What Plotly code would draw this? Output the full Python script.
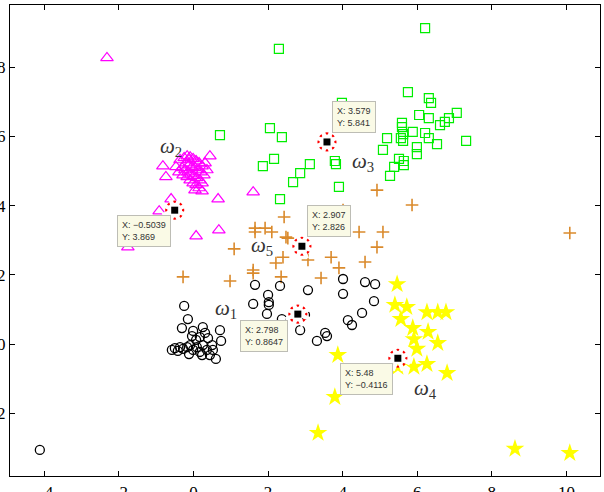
import plotly.graph_objects as go

# ---- data ----
w1_x = [-4.12, -0.25, -0.15, -0.31, -0.01, 0.25, 0.31, 0.71, 0.74, 0.60, -0.04, 0.07, 0.17, 0.39, 0.50,
        0.36, 0.17, -0.01, -0.17, -0.36, -0.50, -0.58, -0.42, -0.28, -0.09, 0.09, 0.25, 0.23, 0.44, 0.52, -0.12,
        1.65, 2.32, 2.00, 2.02, 2.02, 1.60, 1.97, 2.37, 3.07, 4.01, 4.60, 4.87, 4.01, 4.84, 4.52, 4.14, 4.25,
        3.53, 3.58, 3.31, 2.86, 2.99]
w1_y = [-3.06, 1.10, 0.72, 0.46, 0.38, 0.49, 0.32, 0.40, 0.09, -0.43, 0.23, 0.12, 0.20, 0.17, -0.03,
        -0.17, -0.23, -0.17, -0.09, -0.09, -0.12, -0.17, -0.20, -0.14, -0.03, -0.09, -0.03, -0.32, -0.32, -0.17, -0.29,
        1.71, 1.68, 1.42, 1.21, 1.13, 1.16, 0.87, 0.72, 1.56, 1.88, 1.79, 1.73, 1.45, 1.24, 0.90, 0.69, 0.55,
        0.32, 0.23, 0.09, 0.40, 0.84]

w2_x = [-2.32, -0.82, -0.74, -0.60, -0.92, 0.07, -1.76, 0.44, 0.23, 0.66, 1.60, 0.68,
        -0.36, -0.25, -0.17, -0.09, -0.01, 0.07, 0.15, 0.23, -0.20, -0.12, -0.04, 0.04, 0.12, 0.20, 0.28,
        -0.31, -0.23, -0.15, -0.07, 0.01, 0.09, 0.17, -0.28, -0.17, -0.09, -0.01, 0.07, 0.15, 0.23, 0.04,
        -0.39, -0.47, 0.31, 0.36, -0.12]
w2_y = [8.27, 5.14, 4.83, 4.19, 3.84, 3.12, 2.80, 5.43, 4.42, 4.19, 4.39, 3.29,
        5.32, 5.38, 5.43, 5.40, 5.35, 5.29, 5.23, 5.14, 5.23, 5.17, 5.12, 5.09, 5.03, 4.97, 4.88,
        5.09, 5.03, 4.97, 4.91, 4.86, 4.80, 4.74, 4.88, 4.83, 4.74, 4.65, 4.60, 4.51, 4.65, 4.45,
        4.97, 5.12, 5.23, 5.03, 5.32]

w3_x = [2.29, 3.98, 0.71, 2.05, 2.37, 2.16, 1.86, 3.12, 2.86, 2.67, 2.32, 3.79, 3.82, 3.90,
        5.19, 5.08, 5.38, 5.27, 6.21, 5.75, 6.31, 6.37, 6.05, 6.31, 7.06, 6.85, 6.74, 6.61,
        5.88, 6.21, 6.31, 6.53, 7.31, 5.99, 5.99, 5.59, 5.59, 5.62, 5.56, 5.62, 5.51, 5.64, 5.64]
w3_y = [8.53, 6.97, 6.04, 6.24, 5.98, 5.35, 5.14, 5.20, 4.94, 4.68, 4.19, 5.29, 5.20, 4.54,
        5.95, 5.61, 5.12, 4.86, 9.13, 7.28, 7.11, 6.97, 6.62, 6.53, 6.68, 6.53, 6.42, 6.33,
        6.13, 6.10, 5.95, 5.78, 5.87, 5.69, 5.49, 6.39, 6.27, 6.07, 5.95, 5.87, 5.35, 5.29, 5.17]

w4_x = [5.46, 5.40, 5.72, 5.56, 6.26, 6.55, 6.77, 5.88, 6.29, 5.91, 5.99, 6.55, 5.48, 5.91, 6.26, 6.80,
        3.87, 3.79, 3.34, 8.62, 10.09]
w4_y = [1.73, 1.13, 1.07, 0.72, 0.92, 0.92, 0.92, 0.46, 0.35, 0.14, -0.14, 0.03, -0.66, -0.66, -0.58, -0.84,
        -0.32, -1.53, -2.57, -3.03, -3.15]

w5_x = [4.92, 5.86, 4.01, 2.43, 1.65, 1.65, 1.92, 2.10, 2.48, 2.53, 4.44, 5.08, 4.92, 10.09, 1.09,
        2.40, 2.21, 3.07, 3.69, 4.60, 1.60, 1.60, -0.28, 0.98, 2.35, 3.42, 3.90]
w5_y = [4.45, 4.02, 3.87, 3.67, 3.35, 3.24, 3.35, 3.24, 3.09, 3.06, 3.24, 3.24, 2.80, 3.21, 2.75,
        2.51, 2.34, 2.43, 2.51, 2.37, 2.14, 2.05, 1.94, 1.82, 1.94, 1.91, 2.20]

tip_x = [-0.5039, 3.579, 2.907, 2.798, 5.48]
tip_y = [3.869, 5.841, 2.826, 0.8647, -0.4116]
tip_xtxt = ["\u22120.5039", "3.579", "2.907", "2.798", "5.48"]
tip_ytxt = ["3.869", "5.841", "2.826", "0.8647", "\u22120.4116"]

class_labels = ["1", "2", "3", "4", "5"]
label_x = [0.87, -0.60, 4.54, 6.23, 1.84]
label_y = [1.01, 5.69, 5.26, -1.30, 2.83]

x_ticks = [-4, -2, 0, 2, 4, 6, 8, 10]
y_ticks = [-2, 0, 2, 4, 6, 8]

fig = go.Figure()

fig.add_trace(go.Scatter(x=w5_x, y=w5_y, mode="markers",
                         marker=dict(symbol="cross-thin-open", size=9, color="#DA8A2C",
                                     line=dict(color="#DA8A2C", width=1.6))))
fig.add_trace(go.Scatter(x=w1_x, y=w1_y, mode="markers",
                         marker=dict(symbol="circle-open", size=9, color="#000000", line=dict(color="#000000", width=1.3))))
fig.add_trace(go.Scatter(x=w2_x, y=w2_y, mode="markers",
                         marker=dict(symbol="triangle-up-open", size=11, color="#FF00FF", line=dict(color="#FF00FF", width=1.2))))
fig.add_trace(go.Scatter(x=w3_x, y=w3_y, mode="markers",
                         marker=dict(symbol="square-open", size=9, color="#00EE00", line=dict(color="#00EE00", width=1.2))))
fig.add_trace(go.Scatter(x=w4_x, y=w4_y, mode="markers",
                         marker=dict(symbol="star", size=14, color="#FFFF00", line=dict(width=0))))

# data tips: dotted red ring + black square
fig.add_trace(go.Scatter(x=tip_x, y=tip_y, mode="markers",
                         marker=dict(symbol="circle-open", size=17, color="#FF0000", line=dict(color="#FF0000", width=2.2))))
fig.add_trace(go.Scatter(x=tip_x, y=tip_y, mode="markers",
                         marker=dict(symbol="asterisk-open", size=22, angle=22.5, color="#FFFFFF",
                                     line=dict(color="#FFFFFF", width=4.2))))
fig.add_trace(go.Scatter(x=tip_x, y=tip_y, mode="markers",
                         marker=dict(symbol="square", size=7, color="#000000", line=dict(width=0))))

anchors = [("right", "top", -4, -5), ("left", "bottom", 5, 9), ("left", "bottom", 5, 9),
           ("right", "top", -10, -6), ("right", "top", -5, -5)]
for xv, yv, xt, yt, (xa, ya, xs, ys) in zip(tip_x, tip_y, tip_xtxt, tip_ytxt, anchors):
    fig.add_annotation(x=xv, y=yv, xref="x", yref="y", showarrow=False,
                       text=f"X: {xt}<br>Y: {yt}", align="left",
                       xanchor=xa, yanchor=ya, xshift=xs, yshift=ys,
                       font=dict(family="Liberation Sans, Arial", size=9, color="#333333"),
                       bgcolor="#FAFAE6", bordercolor="#BDBDB5", borderwidth=1, borderpad=4)

for lab, xv, yv in zip(class_labels, label_x, label_y):
    fig.add_annotation(x=xv, y=yv, xref="x", yref="y", showarrow=False,
                       text=f"<i>\u03c9</i><sub>{lab}</sub>",
                       font=dict(family="Liberation Serif, Times New Roman, serif", size=21, color="#333333"))

axis_common = dict(showgrid=False, zeroline=False, showline=True, linecolor="#000000", linewidth=1.2,
                   mirror="ticks", ticks="inside", ticklen=5, tickwidth=1, tickcolor="#000000",
                   tickfont=dict(family="Liberation Serif, Times New Roman, serif", size=17, color="#000000"),
                   automargin=False)

fig.update_layout(
    width=604, height=492,
    margin=dict(l=10, r=4, t=5, b=16),
    paper_bgcolor="#FFFFFF", plot_bgcolor="#FFFFFF",
    showlegend=False,
    xaxis=dict(range=[-4.92, 10.9], tickvals=x_ticks, ticktext=[str(v).replace("-", "\u2212") for v in x_ticks], **axis_common),
    yaxis=dict(range=[-3.815, 9.80], tickvals=y_ticks, ticktext=[str(v).replace("-", "\u2212") for v in y_ticks], **axis_common),
)

fig.write_html("out.html")
